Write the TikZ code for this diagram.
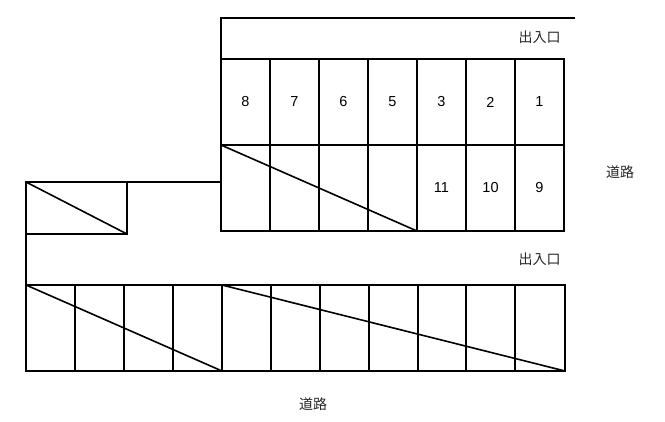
\documentclass[tikz,border=0pt]{standalone}
\usepackage{fontspec}
\setmainfont{Liberation Sans}
\newfontfamily\cjk{Noto Sans CJK JP}
\begin{document}
\begin{tikzpicture}[
  x=1pt, y=-1pt,
  % Line and text styles
  wall/.style={line width=1.6pt, black, line cap=rect},
  stallno/.style={inner sep=0pt, font=\fontsize{14.5}{16}\selectfont},
  placelabel/.style={inner sep=0pt, text=black!85, font=\cjk\fontsize{14}{16}\selectfont}
]
\useasboundingbox (0,0) rectangle (665,421);

% Upper block
\draw[wall] (574,18) -- (221,18) -- (221,231) -- (564,231) -- (564,59) -- (221,59);
\draw[wall] (221,145) -- (564,145);
\foreach \x in {270,319,368,417,466,515}
  \draw[wall] (\x,59) -- (\x,231);
\draw[wall] (221,145) -- (417,231);

% Small block
\draw[wall] (221,182) -- (26,182) -- (26,371);
\draw[wall] (26,234) -- (127,234) -- (127,182);
\draw[wall] (26,182) -- (127,234);

% Lower block
\draw[wall] (26,285) rectangle (565,371);
\foreach \x in {75,124,173,222,271,320,369,418,466,515}
  \draw[wall] (\x,285) -- (\x,371);
\draw[wall] (26,285) -- (222,371);
\draw[wall] (222,285) -- (565,371);

% Stall numbers
\foreach \x/\n in {245.5/8,294.5/7,343.5/6,392.5/5,441.5/3,490.5/2,539.5/1}
  \node[stallno] (stall\n) at (\x,102) {\n};
\foreach \x/\n in {441.5/11,490.5/10,539.5/9}
  \node[stallno] (stall\n) at (\x,188) {\n};

% Places
\node[placelabel] (gateA) at (539.5,37) {出入口};
\node[placelabel] (gateB) at (539.5,259.5) {出入口};
\node[placelabel] (roadE) at (620,172.5) {道路};
\node[placelabel] (roadS) at (313,404) {道路};

\end{tikzpicture}
\end{document}
